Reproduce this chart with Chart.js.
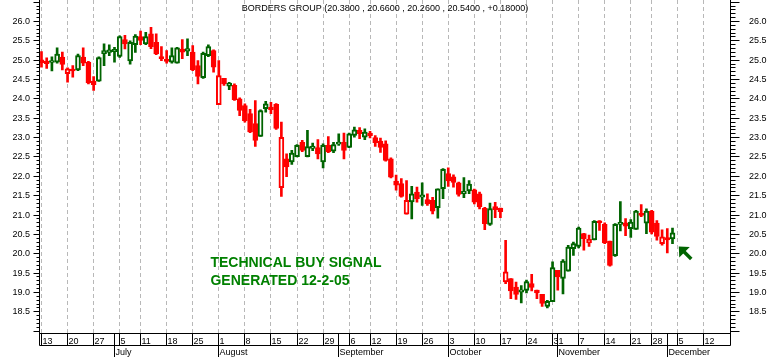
<!DOCTYPE html>
<html>
<head>
<meta charset="utf-8">
<script src="https://cdn.jsdelivr.net/npm/chart.js@4.4.0/dist/chart.umd.min.js"></script>
<style>
html,body{margin:0;padding:0;background:#ffffff;}
#wrap{width:770px;height:357px;position:relative;}
</style>
</head>
<body>
<div id="wrap"><canvas id="c" width="770" height="357"></canvas></div>
<script>
// ---------------- DATA ----------------
const ticker = 'BORDERS GROUP';
// trading days on the axis (data runs to 2005-12-02, the axis continues blank)
const dates = [
'2005-06-13','2005-06-14','2005-06-15','2005-06-16','2005-06-17','2005-06-20','2005-06-21','2005-06-22','2005-06-23','2005-06-24',
'2005-06-27','2005-06-28','2005-06-29','2005-06-30','2005-07-01','2005-07-05','2005-07-06','2005-07-07','2005-07-08','2005-07-11',
'2005-07-12','2005-07-13','2005-07-14','2005-07-15','2005-07-18','2005-07-19','2005-07-20','2005-07-21','2005-07-22','2005-07-25',
'2005-07-26','2005-07-27','2005-07-28','2005-07-29','2005-08-01','2005-08-02','2005-08-03','2005-08-04','2005-08-05','2005-08-08',
'2005-08-09','2005-08-10','2005-08-11','2005-08-12','2005-08-15','2005-08-16','2005-08-17','2005-08-18','2005-08-19','2005-08-22',
'2005-08-23','2005-08-24','2005-08-25','2005-08-26','2005-08-29','2005-08-30','2005-08-31','2005-09-01','2005-09-02','2005-09-06',
'2005-09-07','2005-09-08','2005-09-09','2005-09-12','2005-09-13','2005-09-14','2005-09-15','2005-09-16','2005-09-19','2005-09-20',
'2005-09-21','2005-09-22','2005-09-23','2005-09-26','2005-09-27','2005-09-28','2005-09-29','2005-09-30','2005-10-03','2005-10-04',
'2005-10-05','2005-10-06','2005-10-07','2005-10-10','2005-10-11','2005-10-12','2005-10-13','2005-10-14','2005-10-17','2005-10-18',
'2005-10-19','2005-10-20','2005-10-21','2005-10-24','2005-10-25','2005-10-26','2005-10-27','2005-10-28','2005-10-31','2005-11-01',
'2005-11-02','2005-11-03','2005-11-04','2005-11-07','2005-11-08','2005-11-09','2005-11-10','2005-11-11','2005-11-14','2005-11-15',
'2005-11-16','2005-11-17','2005-11-18','2005-11-21','2005-11-22','2005-11-23','2005-11-25','2005-11-28','2005-11-29','2005-11-30',
'2005-12-01','2005-12-02','2005-12-05','2005-12-06','2005-12-07','2005-12-08','2005-12-09','2005-12-12','2005-12-13','2005-12-14',
'2005-12-15','2005-12-16','2005-12-19'
];
const open = [
25.01,24.98,24.94,24.95,25.08,24.65,24.75,24.75,25.08,24.95,
24.46,24.46,25.17,25.20,25.22,25.10,25.53,24.98,25.40,25.61,
25.42,25.68,25.46,25.09,25.01,24.95,24.92,25.29,25.23,25.21,
24.86,24.55,25.12,25.25,23.85,24.53,24.33,24.35,24.00,23.83,
23.62,23.36,23.03,23.75,23.79,23.86,21.71,22.45,22.37,22.51,
22.88,22.51,22.72,22.74,22.37,22.80,22.65,22.83,22.88,22.75,
23.06,23.19,23.01,23.12,23.00,22.91,22.84,22.45,21.88,21.81,
21.02,21.34,21.59,21.46,21.40,21.38,21.19,21.68,22.07,21.99,
21.83,21.55,21.62,21.65,21.55,21.18,20.76,21.22,21.18,19.27,
19.36,19.14,19.01,19.05,19.23,19.06,18.95,18.64,18.76,19.57,
19.36,19.55,20.13,20.19,20.52,20.28,20.36,20.82,20.76,20.33,
19.95,20.76,20.80,20.65,20.63,21.02,20.79,21.10,20.79,20.26,
20.42,20.38
];
const high = [
25.22,25.06,25.09,25.32,25.21,24.80,24.86,25.16,25.32,24.97,
24.58,25.09,25.42,25.40,25.33,25.63,25.64,25.50,25.66,25.75,
25.72,25.85,25.68,25.35,25.25,25.32,25.33,25.53,25.55,25.38,
24.99,25.21,25.40,25.27,24.99,24.53,24.43,24.39,24.03,23.87,
23.73,23.96,23.72,23.94,23.91,23.88,23.40,22.58,22.67,22.82,
22.93,23.19,22.86,22.95,22.84,23.03,22.88,23.10,23.12,23.12,
23.27,23.26,23.23,23.16,23.05,22.99,22.92,22.48,22.03,21.94,
21.89,21.74,21.72,21.83,21.55,21.46,21.68,22.20,22.22,22.04,
21.85,21.97,21.89,21.67,21.59,21.20,21.31,21.33,21.18,20.35,
19.36,19.27,19.18,19.32,19.47,19.06,18.95,18.80,19.79,19.57,
19.85,20.22,20.30,20.69,20.53,20.48,20.86,20.86,20.80,20.33,
20.78,21.35,20.91,20.88,21.12,21.27,21.16,21.12,20.86,20.62,
20.65,20.66
];
const low = [
24.82,24.79,24.72,24.92,24.75,24.43,24.56,24.73,24.86,24.39,
24.22,24.45,24.86,25.12,24.95,25.07,25.29,24.90,25.20,25.40,
25.40,25.30,25.14,24.99,24.92,24.92,24.92,25.04,25.12,24.73,
24.39,24.53,25.09,24.69,23.85,24.35,24.24,23.96,23.57,23.40,
23.13,22.77,23.03,23.66,23.62,23.21,21.48,21.99,22.31,22.50,
22.64,22.50,22.66,22.45,22.22,22.61,22.61,22.80,22.45,22.74,
23.01,22.97,22.95,22.99,22.77,22.62,22.39,21.96,21.64,21.46,
21.02,20.90,21.33,21.25,21.25,21.03,20.92,21.42,21.74,21.72,
21.49,21.45,21.55,21.29,21.16,20.62,20.73,20.93,20.93,19.23,
18.84,18.82,18.73,18.99,19.04,18.84,18.64,18.60,18.76,19.06,
18.96,19.55,19.96,20.15,20.09,20.19,20.36,20.60,20.26,19.68,
19.93,20.59,20.47,20.42,20.63,20.96,20.52,20.51,20.35,20.22,
20.02,20.26
];
const close = [
24.93,24.91,24.99,25.16,24.89,24.78,24.72,25.12,24.92,24.41,
24.37,25.07,25.25,25.27,25.28,25.61,25.42,25.46,25.62,25.51,
25.61,25.35,25.16,25.04,24.97,25.12,25.32,25.21,25.30,24.75,
24.58,25.18,25.35,24.82,24.60,24.39,24.41,23.98,23.70,23.44,
23.15,22.93,23.70,23.87,23.72,23.24,23.01,22.24,22.60,22.80,
22.67,22.77,22.78,22.58,22.80,22.63,22.82,22.87,22.67,23.10,
23.20,23.10,23.14,23.05,22.87,22.75,22.41,21.98,21.77,21.48,
21.38,21.55,21.42,21.52,21.29,21.10,21.68,22.18,21.88,21.84,
21.53,21.61,21.80,21.33,21.21,20.78,21.17,21.14,21.09,19.53,
19.04,18.95,19.07,19.28,19.13,18.99,18.72,18.77,19.64,19.40,
19.81,20.17,20.26,20.66,20.39,20.37,20.84,20.80,20.28,19.70,
20.76,20.80,20.71,20.82,21.10,20.99,21.10,20.56,20.45,20.44,
20.36,20.54
];
const priorClose = 25.05;           // close of the session before the first candle
const yLabels = ['18.5','19.0','19.5','20.0','20.5','21.0','21.5','22.0','22.5','23.0','23.5','24.0','24.5','25.0','25.5','26.0'];
const monthNames = ['January','February','March','April','May','June','July','August','September','October','November','December'];
const signalText = ['TECHNICAL BUY SIGNAL', 'GENERATED 12-2-05'];
const signalAt = {x: 32.4, y: 19.67};
const arrowAt = {x: 122.2, y: 20.19};

// ---------------- STYLE ----------------
const RED = '#ff0000';
const GREEN = '#006400';
const TEXT_GREEN = '#008000';
const FONT = '"Liberation Sans", Arial, sans-serif';

// ---------------- DERIVED ----------------
const parsed = dates.map(d => new Date(d + 'T00:00:00Z'));
const weekStarts = [];
const monthStarts = [];
parsed.forEach((d, i) => {
  if (i === 0 || d.getUTCDay() <= parsed[i - 1].getUTCDay()) weekStarts.push(i);
  if (i > 0 && d.getUTCMonth() !== parsed[i - 1].getUTCMonth()) monthStarts.push(i);
});
const prevClose = i => (i > 0 ? close[i - 1] : priorClose);
const candleColor = i => (i === undefined ? RED : (close[i] >= prevClose(i) ? GREEN : RED));
const isHollow = i => (i !== undefined && close[i] > open[i]);

const last = close.length - 1;
const title = ticker + ' (' + open[last].toFixed(4) + ' , ' + high[last].toFixed(4) + ' , ' +
  low[last].toFixed(4) + ' , ' + close[last].toFixed(4) + ' , ' +
  ((close[last] - close[last - 1]) >= 0 ? '+' : '') + (close[last] - close[last - 1]).toFixed(5) + ')';

const crisp = p => Math.round(p - 0.5) + 0.5;

const axesPlugin = {
  id: 'stockAxes',
  beforeDraw(chart) {
    const ctx = chart.ctx;
    ctx.save();
    ctx.fillStyle = '#ffffff';
    ctx.fillRect(0, 0, chart.width, chart.height);
    ctx.restore();
  },
  beforeDatasetsDraw(chart) {
    const {ctx, chartArea: a, scales: {x}} = chart;
    ctx.save();
    ctx.strokeStyle = '#b8b8b8';
    ctx.lineWidth = 1;
    ctx.setLineDash([4, 3]);
    weekStarts.forEach(i => {
      const px = crisp(x.getPixelForValue(i));
      if (px > a.right - 2) return;
      ctx.beginPath();
      ctx.moveTo(px, a.top);
      ctx.lineTo(px, a.bottom);
      ctx.stroke();
    });
    ctx.restore();
  },
  afterDraw(chart) {
    const {ctx, chartArea: a, scales: {x, y}} = chart;
    const L = crisp(a.left), R = crisp(a.right), B = crisp(a.bottom);
    const row1 = B + 12, row2 = chart.height;
    ctx.save();
    ctx.strokeStyle = '#000';
    ctx.fillStyle = '#000';
    ctx.lineWidth = 1;
    ctx.setLineDash([]);
    // frame lines
    ctx.beginPath();
    ctx.moveTo(L, 0); ctx.lineTo(L, row1);
    ctx.moveTo(R, 0); ctx.lineTo(R, row1);
    ctx.moveTo(L, B); ctx.lineTo(R, B);
    ctx.moveTo(L, row1); ctx.lineTo(R, row1);
    ctx.stroke();
    // y ticks (major every 0.5, minor every 0.1)
    const kMin = Math.ceil(y.min * 10 - 1e-6), kMax = Math.floor(y.max * 10 + 1e-6);
    ctx.beginPath();
    for (let k = kMin; k <= kMax; k++) {
      const py = crisp(y.getPixelForValue(k / 10));
      const major = k % 5 === 0;
      ctx.moveTo(L - (major ? 6 : 3), py); ctx.lineTo(L, py);
      ctx.moveTo(R, py); ctx.lineTo(R + (major ? 9 : 5), py);
    }
    ctx.stroke();
    // y labels
    ctx.font = '9px ' + FONT;
    ctx.textBaseline = 'middle';
    yLabels.forEach(t => {
      const py = crisp(y.getPixelForValue(parseFloat(t)));
      ctx.textAlign = 'right';
      ctx.fillText(t, 30, py + 0.5);
      ctx.textAlign = 'left';
      ctx.fillText(t, R + 18.5, py + 0.5);
    });
    // x axis: week row
    ctx.textBaseline = 'alphabetic';
    ctx.textAlign = 'left';
    ctx.beginPath();
    weekStarts.forEach(i => {
      const px = crisp(x.getPixelForValue(i));
      if (px > R - 2) return;
      ctx.moveTo(px, B); ctx.lineTo(px, row1);
    });
    monthStarts.forEach(i => {
      const px = crisp(x.getPixelForValue(i));
      if (px > R - 2) return;
      ctx.moveTo(px, B); ctx.lineTo(px, row2);
    });
    ctx.stroke();
    weekStarts.forEach(i => {
      const px = crisp(x.getPixelForValue(i));
      if (px > R - 12) return;
      ctx.fillText(String(parsed[i].getUTCDate()), px + 1, B + 10);
    });
    monthStarts.forEach(i => {
      const px = crisp(x.getPixelForValue(i));
      if (px > R - 12) return;
      ctx.fillText(monthNames[parsed[i].getUTCMonth()], px + 1, row2 - 2);
    });
    // title
    ctx.textAlign = 'center';
    ctx.fillText(title, chart.width / 2, 11);
    // signal annotation
    ctx.textAlign = 'left';
    ctx.fillStyle = TEXT_GREEN;
    ctx.font = 'bold 14px ' + FONT;
    const sx = x.getPixelForValue(signalAt.x), sy = y.getPixelForValue(signalAt.y);
    signalText.forEach((t, k) => ctx.fillText(t, sx, sy + k * 18));
    // arrow pointing up-left
    const ax = x.getPixelForValue(arrowAt.x), ay = y.getPixelForValue(arrowAt.y);
    ctx.fillStyle = GREEN;
    ctx.strokeStyle = GREEN;
    ctx.beginPath();
    ctx.moveTo(ax, ay);
    ctx.lineTo(ax + 11, ay + 0.5);
    ctx.lineTo(ax + 0.5, ay + 11);
    ctx.closePath();
    ctx.fill();
    ctx.lineWidth = 3.5;
    ctx.beginPath();
    ctx.moveTo(ax + 4, ay + 4);
    ctx.lineTo(ax + 12.5, ay + 12.5);
    ctx.stroke();
    ctx.restore();
  }
};

new Chart(document.getElementById('c'), {
  type: 'bar',
  data: {
    datasets: [
      {
        label: 'body',
        data: open.map((o, i) => ({x: i, y: [o, close[i]]})),
        backgroundColor: c => (isHollow(c.dataIndex) ? '#ffffff' : candleColor(c.dataIndex)),
        borderColor: c => candleColor(c.dataIndex),
        borderWidth: 2,
        borderSkipped: false,
        barThickness: 5,
        minBarLength: 2,
        grouped: false,
        order: 0
      },
      {
        label: 'wick',
        data: low.map((l, i) => ({x: i, y: [l, high[i]]})),
        backgroundColor: c => candleColor(c.dataIndex),
        borderWidth: 0,
        barThickness: 2,
        grouped: false,
        order: 1
      }
    ]
  },
  options: {
    responsive: false,
    animation: false,
    devicePixelRatio: 1,
    layout: {padding: {left: 39.5, right: 39.5, top: 0, bottom: 23.5}},
    plugins: {legend: {display: false}, tooltip: {enabled: false}, title: {display: false}},
    scales: {
      x: {type: 'linear', min: -0.38, max: 132.12, offset: false, display: false, grid: {offset: false}},
      y: {type: 'linear', min: 17.94, max: 26.555, display: false}
    }
  },
  plugins: [axesPlugin]
});
</script>
</body>
</html>
